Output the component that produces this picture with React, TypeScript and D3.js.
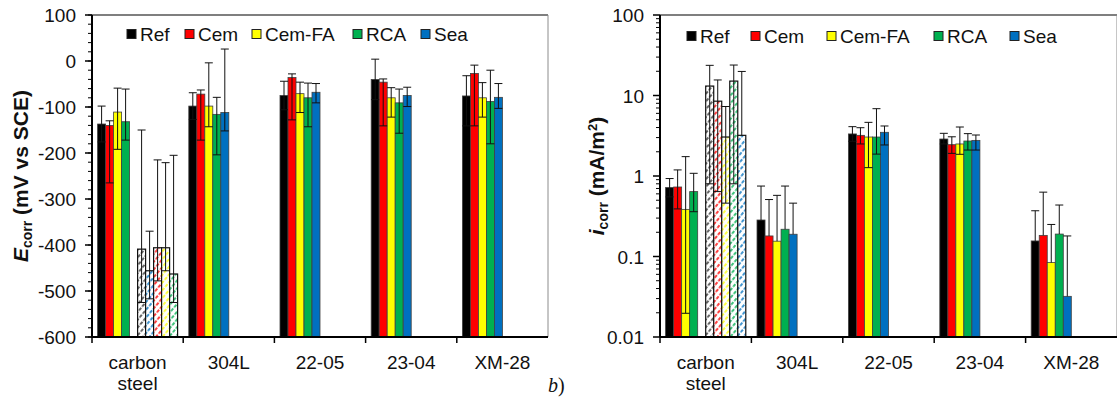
import React from "react";
import * as d3 from "d3";

const categories = ["carbon steel", "304L", "22-05", "23-04", "XM-28"];
const seriesNames = ["Ref", "Cem", "Cem-FA", "RCA", "Sea"];
const seriesColors = ["#000000", "#ff0000", "#ffff00", "#00b050", "#0070c0"];

// E_corr (mV vs SCE), one row per series, one value per category
const ecorrMean = [
  [-137, -98, -75, -40, -76],
  [-140, -72, -36, -46, -27],
  [-111, -98, -71, -80, -80],
  [-132, -116, -80, -91, -88],
  [null, -112, -68, -75, -79],
];
const ecorrHigh = [
  [-98, -69, -44, 4, -32],
  [-130, -63, -28, -39, -9],
  [-59, -4, -46, -58, -47],
  [-61, -79, -48, -61, -20],
  [null, 26, -49, -57, -49],
];
const ecorrLow = [
  [-176, -127, -106, -84, -141],
  [-265, -172, -128, -141, -141],
  [-192, -143, -112, -122, -122],
  [-172, -204, -143, -157, -180],
  [null, -152, -91, -99, -103],
];
// hatched carbon steel bars (left panel order: Ref, Sea, Cem, Cem-FA, RCA)
const ecorrHatchSeries = [0, 4, 1, 2, 3];
const ecorrHatchMean = [-409, -456, -406, -406, -463];
const ecorrHatchHigh = [-150, -370, -215, -221, -205];
const ecorrHatchLow = [-525, -517, -478, -456, -525];
const ecorrTicks = [100, 0, -100, -200, -300, -400, -500, -600];

// i_corr (mA/m2)
const icorrMean = [
  [0.72, 0.284, 3.33, 2.88, 0.156],
  [0.73, 0.18, 3.2, 2.45, 0.183],
  [0.385, 0.155, 3.05, 2.5, 0.084],
  [0.64, 0.218, 3.05, 2.72, 0.19],
  [null, 0.189, 3.49, 2.77, 0.032],
];
const icorrHigh = [
  [0.93, 0.75, 4.1, 3.39, 0.37],
  [1.19, 0.51, 3.98, 3.07, 0.63],
  [1.74, 0.575, 4.64, 4.06, 0.25],
  [1.08, 0.75, 6.86, 3.36, 0.436],
  [null, 0.46, 4.18, 3.23, 0.18],
];
const icorrLow = [
  [0.55, 0.284, 2.7, 2.5, 0.156],
  [0.39, 0.18, 2.5, 1.91, 0.183],
  [0.0197, 0.155, 1.27, 1.86, 0.084],
  [0.36, 0.218, 1.87, 2.1, 0.19],
  [null, 0.189, 2.43, 2.1, 0.032],
];
// hatched carbon steel bars (right panel order: Ref, Cem, Cem-FA, RCA, Sea)
const icorrHatchSeries = [0, 1, 2, 3, 4];
const icorrHatchMean = [13.1, 8.5, 3.05, 15.1, 3.2];
const icorrHatchHigh = [23.7, 15.6, 7.3, 23.9, 19.9];
const icorrHatchLow = [0.8, 0.64, 0.46, 0.8, 3.2];
const icorrTicks = [0.01, 0.1, 1, 10, 100];

const FONT = "'Liberation Sans', Arial, sans-serif";
const FS = 19;

function Panel({ x0, x1, yScale, minorTicks, ticks, mean, high, low, hatchSeries, hatchMean, hatchHigh, hatchLow, legendX, legendY, title, titleX }) {
  const top = 15;
  const bottom = 337;
  const x = d3.scaleBand().domain(categories).range([x0, x1]);
  const slot = d3.scaleBand().domain(d3.range(10)).range([0, x.bandwidth()]).paddingOuter(0.7);
  const bw = slot.bandwidth();
  const base = yScale(yScale.domain()[0]);

  const bars = [];
  const errs = [];
  mean.forEach((row, s) => {
    row.forEach((v, c) => {
      if (v == null) return;
      const bx = x(categories[c]) + slot(s);
      bars.push(
        <rect key={`b${s}-${c}`} x={bx} y={yScale(v)} width={bw} height={base - yScale(v)}
          fill={seriesColors[s]} stroke="#404040" strokeWidth={0.8} />
      );
      errs.push({ cx: bx + bw / 2, v, hi: high[s][c], lo: low[s][c], key: `e${s}-${c}` });
    });
  });
  hatchMean.forEach((v, j) => {
    const s = hatchSeries[j];
    const bx = x(categories[0]) + slot(5 + j);
    bars.push(
      <rect key={`h${j}`} x={bx} y={yScale(v)} width={bw} height={base - yScale(v)}
        fill={`url(#hatch${s})`} stroke="#111" strokeWidth={1.2} />
    );
    errs.push({ cx: bx + bw / 2, v, hi: hatchHigh[j], lo: hatchLow[j], key: `he${j}` });
  });

  return (
    <g>
      {/* plot frame */}
      <line x1={x0} x2={x1} y1={top} y2={top} stroke="#7f7f7f" strokeWidth={2} />
      <line x1={x1} x2={x1} y1={top} y2={bottom} stroke="#8c8c8c" strokeWidth={1} />
      {bars}
      {errs.map((e) => (
        <g key={e.key} stroke="#111" strokeWidth={1}>
          <line x1={e.cx} x2={e.cx} y1={yScale(e.hi)} y2={yScale(e.lo)} />
          <line x1={e.cx - 4} x2={e.cx + 4} y1={yScale(e.hi)} y2={yScale(e.hi)} />
          {e.lo !== e.v && <line x1={e.cx - 4} x2={e.cx + 4} y1={yScale(e.lo)} y2={yScale(e.lo)} />}
        </g>
      ))}
      {/* y axis */}
      <line x1={x0} x2={x0} y1={top} y2={bottom} stroke="#000" strokeWidth={2} />
      {minorTicks.map((t, i) => (
        <line key={`m${i}`} x1={x0 - 4} x2={x0} y1={yScale(t)} y2={yScale(t)} stroke="#000" strokeWidth={1} />
      ))}
      {ticks.map((t) => (
        <g key={`t${t}`}>
          <line x1={x0 - 7} x2={x0} y1={yScale(t)} y2={yScale(t)} stroke="#000" strokeWidth={1.5} />
          <text x={x0 - 16} y={yScale(t) + 7} textAnchor="end" fontSize={FS} fontFamily={FONT} fill="#111">{String(t)}</text>
        </g>
      ))}
      {/* x axis */}
      <line x1={x0} x2={x1} y1={bottom} y2={bottom} stroke="#000" strokeWidth={2} />
      {categories.map((c, i) => (
        <line key={`xt${i}`} x1={x(c)} x2={x(c)} y1={bottom} y2={bottom + 6} stroke="#000" strokeWidth={1.5} />
      ))}
      {categories.map((c) => {
        const lines = c === "carbon steel" ? ["carbon", "steel"] : [c];
        return lines.map((l, k) => (
          <text key={`xl${c}${k}`} x={x(c) + x.bandwidth() / 2} y={369 + k * 21} textAnchor="middle"
            fontSize={FS} fontFamily={FONT} fill="#111">{l}</text>
        ));
      })}
      {/* legend */}
      {seriesNames.map((n, i) => (
        <g key={`lg${n}`}>
          <rect x={legendX[i]} y={legendY - 4.5} width={9} height={9} fill={seriesColors[i]} stroke="#222" strokeWidth={1} />
          <text x={legendX[i] + 13} y={legendY + 7} fontSize={FS} fontFamily={FONT} fill="#111">{n}</text>
        </g>
      ))}
      {/* axis title */}
      <text transform={`translate(${titleX},176) rotate(-90)`} textAnchor="middle" fontSize={21}
        fontFamily={FONT} fontWeight="bold" fill="#111">
        {title}
      </text>
    </g>
  );
}

export default function App() {
  const yLeft = d3.scaleLinear().domain([-600, 100]).range([337, 15]);
  const yRight = d3.scaleLog().domain([0.01, 100]).range([337, 15]);
  const leftMinor = d3.range(-600, 101, 20);
  const rightMinor = [];
  [0.01, 0.1, 1, 10].forEach((d) => d3.range(2, 10).forEach((k) => rightMinor.push(d * k)));

  return (
    <svg width={1117} height={405} style={{ position: "absolute", left: 0, top: 0, background: "#fff" }}>
      <defs>
        {seriesColors.map((c, i) => (
          <pattern key={i} id={`hatch${i}`} patternUnits="userSpaceOnUse" width={5} height={5}
            patternTransform="rotate(40)">
            <rect width={5} height={5} fill="#fff" />
            <line x1={1} x2={1} y1={0} y2={5} stroke={i === 0 ? "#333" : c} strokeWidth={1.5} strokeDasharray="3.5 1.5" />
          </pattern>
        ))}
      </defs>
      <Panel x0={92} x1={548} yScale={yLeft} minorTicks={leftMinor} ticks={ecorrTicks}
        mean={ecorrMean} high={ecorrHigh} low={ecorrLow}
        hatchSeries={ecorrHatchSeries} hatchMean={ecorrHatchMean} hatchHigh={ecorrHatchHigh} hatchLow={ecorrHatchLow}
        legendX={[127, 185, 252, 353, 421]} legendY={34} titleX={28}
        title={[
          <tspan key="a" fontStyle="italic">E</tspan>,
          <tspan key="b" fontSize={14} dy={4}>corr</tspan>,
          <tspan key="c" dy={-4}> (mV vs SCE)</tspan>,
        ]} />
      <Panel x0={660} x1={1117} yScale={yRight} minorTicks={rightMinor} ticks={icorrTicks}
        mean={icorrMean} high={icorrHigh} low={icorrLow}
        hatchSeries={icorrHatchSeries} hatchMean={icorrHatchMean} hatchHigh={icorrHatchHigh} hatchLow={icorrHatchLow}
        legendX={[687, 751, 827, 934, 1010]} legendY={36} titleX={604}
        title={[
          <tspan key="a" fontStyle="italic">i</tspan>,
          <tspan key="b" fontSize={14} dy={4}>corr</tspan>,
          <tspan key="c" dy={-4}> (mA/m</tspan>,
          <tspan key="d" fontSize={13} dy={-7}>2</tspan>,
          <tspan key="e" dy={7}>)</tspan>,
        ]} />
      <text x={548} y={392} fontFamily="'Liberation Serif', 'Times New Roman', serif" fontStyle="italic" fontSize={20} fill="#111">b</text>
      <text x={558} y={392} fontFamily="'Liberation Serif', 'Times New Roman', serif" fontSize={20} fill="#111">)</text>
    </svg>
  );
}
